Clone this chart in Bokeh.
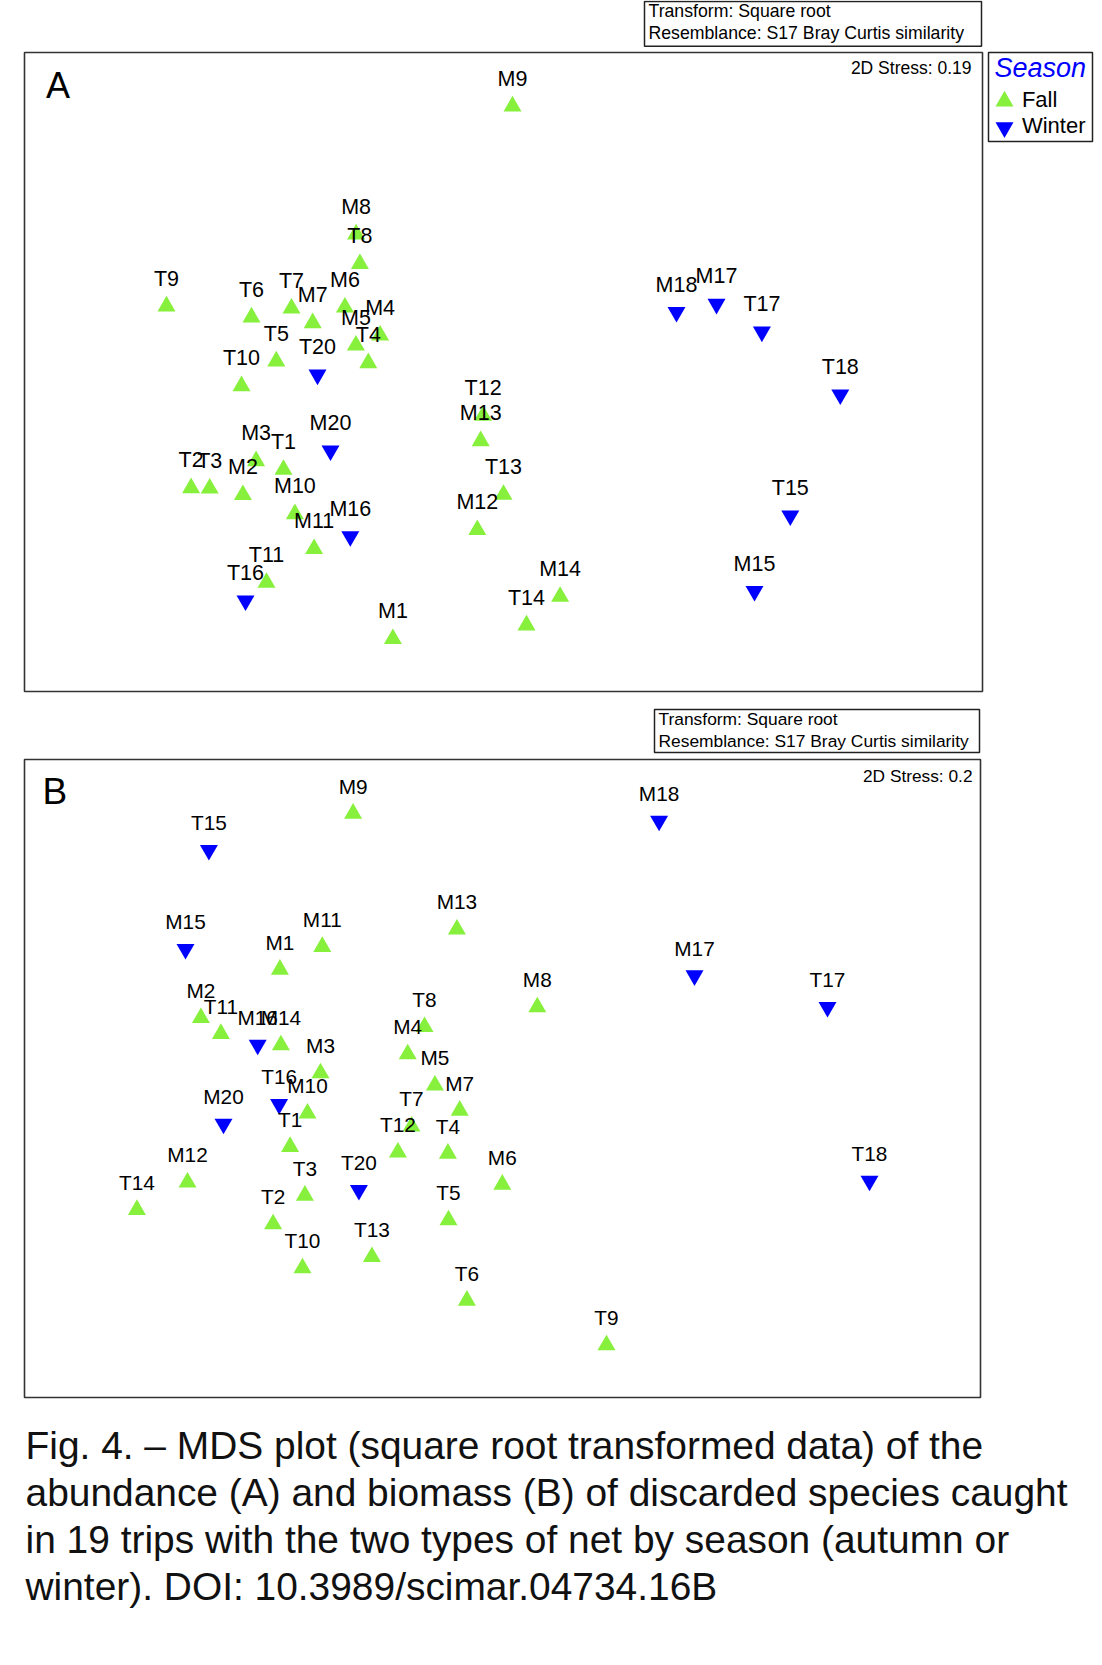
from bokeh.plotting import figure
from bokeh.models import Range1d, Label, ColumnDataSource
from bokeh.embed import file_html
from bokeh.resources import INLINE
from bokeh.core.properties import value

# ---------------- data ----------------
samples = ["M1", "M2", "M3", "M4", "M5", "M6", "M7", "M8", "M9", "M10",
           "M11", "M12", "M13", "M14", "M15", "M16", "M17", "M18", "M20",
           "T1", "T2", "T3", "T4", "T5", "T6", "T7", "T8", "T9", "T10",
           "T11", "T12", "T13", "T14", "T15", "T16", "T17", "T18", "T20"]

season = (["Fall"] * 14 + ["Winter"] * 5) * 2

# Panel A: abundance MDS coordinates
a_x = [-0.553, -1.303, -1.237, -0.617, -0.738, -0.793, -0.954, -0.737, 0.045, -1.043,
       -0.947, -0.131, -0.114, 0.283, 1.255, -0.766, 1.065, 0.865, -0.865,
       -1.100, -1.562, -1.469, -0.676, -1.136, -1.260, -1.060, -0.718, -1.685, -1.310,
       -1.185, -0.102, 0.000, 0.115, 1.434, -1.290, 1.292, 1.684, -0.930]
a_y = [-1.334, -0.614, -0.445, 0.183, 0.133, 0.323, 0.245, 0.689, 1.329, -0.710,
       -0.884, -0.789, -0.345, -1.123, -1.096, -0.822, 0.340, 0.299, -0.393,
       -0.488, -0.580, -0.582, 0.045, 0.054, 0.274, 0.318, 0.541, 0.329, -0.070,
       -1.053, -0.218, -0.613, -1.266, -0.718, -1.143, 0.201, -0.113, -0.014]

# Panel B: biomass MDS coordinates
b_x = [-1.113, -1.508, -0.910, -0.474, -0.338, -0.001, -0.214, 0.174, -0.747, -0.975,
       -0.901, -1.575, -0.228, -1.108, -1.585, -1.224, 0.960, 0.783, -1.395,
       -1.062, -1.147, -0.988, -0.273, -0.270, -0.178, -0.455, -0.390, 0.520, -1.000,
       -1.408, -0.523, -0.653, -1.828, -1.468, -1.117, 1.625, 1.835, -0.718]
b_y = [0.545, 0.303, 0.027, 0.122, -0.034, -0.530, -0.160, 0.357, 1.325, -0.174,
       0.659, -0.519, 0.746, 0.167, 0.647, 0.168, 0.515, 1.288, -0.227,
       -0.341, -0.728, -0.585, -0.375, -0.708, -1.110, -0.239, 0.258, -1.333, -0.948,
       0.224, -0.369, -0.892, -0.656, 1.142, -0.129, 0.357, -0.512, -0.558]

seasons = ["Fall", "Winter"]
season_marker = {"Fall": "triangle", "Winter": "inverted_triangle"}
season_color = {"Fall": "#86F03C", "Winter": "#0000FF"}

stress_a = "2D Stress: 0.19"
stress_b = "2D Stress: 0.2"
transform_lines = ["Transform: Square root", "Resemblance: S17 Bray Curtis similarity"]
caption_lines = [
    "Fig. 4. \u2013 MDS plot (square root transformed data) of the",
    "abundance (A) and biomass (B) of discarded species caught",
    "in 19 trips with the two types of net by season (autumn or",
    "winter). DOI: 10.3989/scimar.04734.16B",
]

FONT = "Liberation Sans"
W, H = 1100, 1660          # canvas size
SCALE = 200.0              # pixels per MDS unit
BASE_CORR = 0.355          # baseline correction (em) for svg text placement

# one canvas-wide frame; layout coordinates in canvas pixels (y downward)
p = figure(width=W, height=H, x_range=Range1d(0, W), y_range=Range1d(H, 0),
           min_border=0, min_border_left=0, min_border_right=0,
           min_border_top=0, min_border_bottom=0,
           x_axis_location=None, y_axis_location=None,
           output_backend="svg", toolbar_location=None, title=None)
p.grid.grid_line_color = None
p.outline_line_color = None
p.background_fill_color = "white"
p.border_fill_color = "white"


def add_text(x, y, txt, size, align="left", color="black", style="normal"):
    p.add_layout(Label(x=x, y=y - BASE_CORR * size, text=txt, text_font=FONT,
                       text_font_size=f"{size}px", text_align=align,
                       text_baseline="alphabetic", text_color=color,
                       text_font_style=style))


def add_box(l, r, t, b, width=1.5, color="#222222"):
    p.quad(left=[l], right=[r], top=[t], bottom=[b], fill_color=None,
           line_color=color, line_width=width)


def panel(name, xs, ys, frame, label_size):
    l, t, r, b = frame
    cx, cy = (l + r) / 2, (t + b) / 2
    p.extra_x_ranges[name + "x"] = Range1d(-cx / SCALE, (W - cx) / SCALE)
    p.extra_y_ranges[name + "y"] = Range1d((cy - H) / SCALE, cy / SCALE)
    add_box(l, r, t, b, width=1.6, color="#333333")
    src = ColumnDataSource(dict(
        x=xs, y=ys, name=samples,
        marker=[season_marker[s] for s in season],
        color=[season_color[s] for s in season]))
    p.scatter(x="x", y="y", source=src, marker="marker", size=18,
              fill_color="color", line_color=None,
              x_range_name=name + "x", y_range_name=name + "y")
    p.text(x="x", y="y", text="name", source=src, text_align="center",
           text_baseline="alphabetic", y_offset=-20 - BASE_CORR * label_size,
           text_color="black", text_font=value(FONT),
           text_font_size=f"{label_size}px",
           x_range_name=name + "x", y_range_name=name + "y")


# ---------------- panel A ----------------
panel("a", a_x, a_y, (24, 52, 982, 691), 21.5)
add_text(45.5, 98, "A", 36)
add_text(971, 74, stress_a, 17.5, align="right")
add_box(644, 981, 1, 45.7)
add_text(648, 16.7, transform_lines[0], 17.7)
add_text(648, 39, transform_lines[1], 17.7)

# legend
add_box(988, 1092, 52, 141)
add_text(994, 77, "Season", 27, color="#0000FF", style="italic")
leg_src = ColumnDataSource(dict(
    x=[1004] * len(seasons), tx=[1021.4] * len(seasons),
    y=[100.7 + 26.3 * i for i in range(len(seasons))], name=seasons,
    marker=[season_marker[s] for s in seasons],
    color=[season_color[s] for s in seasons]))
p.scatter(x="x", y="y", source=leg_src, marker="marker", size=18,
          fill_color="color", line_color=None)
p.text(x="tx", y="y", text="name", source=leg_src, text_align="left",
       text_baseline="alphabetic", y_offset=5.8 - BASE_CORR * 22, text_color="black",
       text_font=value(FONT), text_font_size="22px")

# ---------------- panel B ----------------
panel("b", b_x, b_y, (24, 759, 980, 1397), 20.8)
add_text(42, 804, "B", 37)
add_text(972, 781.7, stress_b, 17.3, align="right")
add_box(654, 979, 709, 752)
add_text(658, 725, transform_lines[0], 17.4)
add_text(658, 746.7, transform_lines[1], 17.4)

# ---------------- caption ----------------
for i, line in enumerate(caption_lines):
    add_text(25, 1459.3 + 46.7 * i, line, 38.9, color="#111111")

open("out.html", "w").write(file_html(p, INLINE))
